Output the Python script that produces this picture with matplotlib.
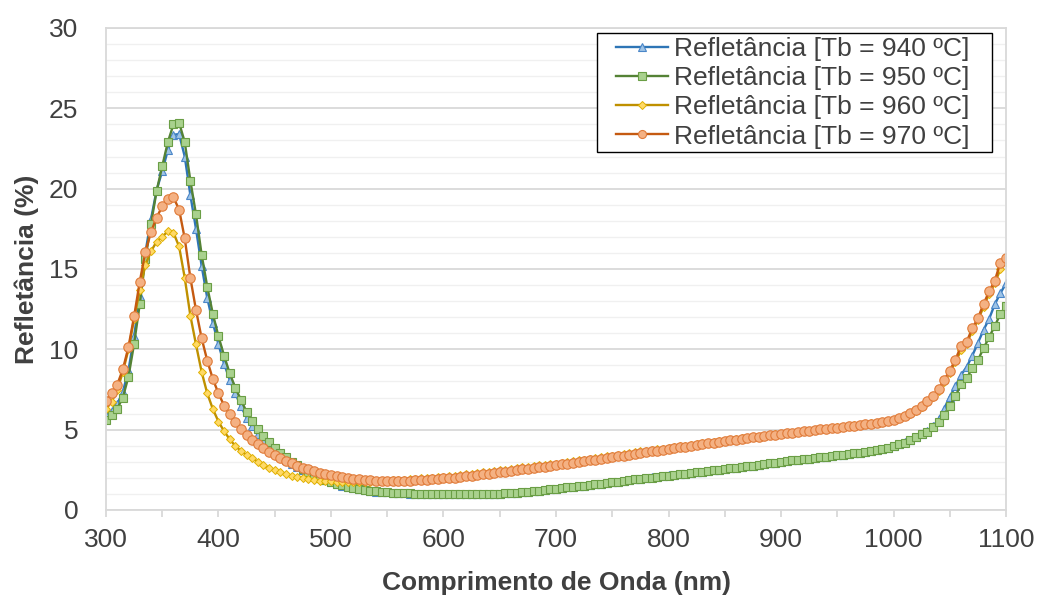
import matplotlib
matplotlib.use("Agg")
import matplotlib.pyplot as plt
from matplotlib.ticker import MultipleLocator
from matplotlib.patches import Rectangle
from matplotlib.transforms import IdentityTransform
import numpy as np

plt.rcParams['font.family'] = ['Liberation Sans', 'DejaVu Sans']

# comprimento de onda: 300 a 1100 nm, passo de 5 nm
wl = np.arange(300, 1101, 5)

r940 = [5.9, 6.15, 6.6, 7.35, 8.7, 10.8, 13.3, 16.0, 18.1, 19.9,
        21.1, 22.4, 23.35, 23.4, 22.0, 19.6, 17.5, 15.2, 13.2, 11.65,
        10.3, 9.1, 8.1, 7.25, 6.45, 5.75, 5.2, 4.7, 4.3, 3.95,
        3.62, 3.35, 3.1, 2.87, 2.66, 2.47, 2.3, 2.14, 1.99, 1.86,
        1.73, 1.62, 1.52, 1.43, 1.35, 1.29, 1.23, 1.18, 1.14, 1.11,
        1.09, 1.07, 1.05, 1.03, 1.02, 1.01, 1.0, 0.99, 0.99, 0.98,
        0.98, 0.97, 0.97, 0.97, 0.97, 0.98, 0.98, 0.99, 1.0, 1.01,
        1.02, 1.04, 1.06, 1.08, 1.1, 1.13, 1.16, 1.2, 1.24, 1.28,
        1.32, 1.36, 1.4, 1.44, 1.48, 1.52, 1.56, 1.6, 1.64, 1.68,
        1.73, 1.77, 1.81, 1.86, 1.9, 1.95, 1.99, 2.03, 2.07, 2.11,
        2.15, 2.19, 2.23, 2.27, 2.31, 2.35, 2.39, 2.43, 2.47, 2.51,
        2.55, 2.59, 2.63, 2.67, 2.71, 2.75, 2.8, 2.85, 2.9, 2.95,
        3.0, 3.04, 3.08, 3.12, 3.16, 3.2, 3.24, 3.28, 3.32, 3.36,
        3.4, 3.44, 3.48, 3.52, 3.57, 3.62, 3.67, 3.72, 3.79, 3.86,
        3.99, 4.1, 4.22, 4.38, 4.56, 4.75, 4.92, 5.2, 5.65, 6.3,
        7.05, 7.7, 8.4, 8.9, 9.6, 10.4, 11.2, 11.9, 12.8, 13.5,
        14.1]

r950 = [5.6, 5.9, 6.3, 7.0, 8.3, 10.35, 12.8, 15.6, 17.8, 19.85,
        21.4, 22.9, 24.0, 24.1, 22.9, 20.5, 18.4, 15.9, 13.9, 12.2,
        10.8, 9.6, 8.5, 7.6, 6.85, 6.1, 5.56, 5.05, 4.6, 4.2,
        3.85, 3.55, 3.28, 3.0, 2.78, 2.57, 2.36, 2.18, 2.01, 1.87,
        1.74, 1.64, 1.54, 1.45, 1.37, 1.31, 1.24, 1.2, 1.16, 1.12,
        1.1, 1.08, 1.06, 1.04, 1.03, 1.02, 1.01, 1.0, 1.0, 0.99,
        0.99, 0.98, 0.98, 0.98, 0.98, 0.98, 0.99, 0.99, 1.0, 1.01,
        1.02, 1.04, 1.06, 1.08, 1.1, 1.13, 1.16, 1.2, 1.24, 1.28,
        1.32, 1.36, 1.4, 1.44, 1.48, 1.52, 1.56, 1.6, 1.64, 1.68,
        1.72, 1.76, 1.8, 1.85, 1.9, 1.94, 1.98, 2.02, 2.06, 2.1,
        2.14, 2.18, 2.22, 2.26, 2.31, 2.35, 2.39, 2.43, 2.47, 2.51,
        2.55, 2.59, 2.63, 2.67, 2.71, 2.75, 2.8, 2.85, 2.9, 2.95,
        3.0, 3.04, 3.08, 3.12, 3.16, 3.2, 3.24, 3.28, 3.32, 3.36,
        3.4, 3.44, 3.48, 3.52, 3.57, 3.62, 3.67, 3.72, 3.78, 3.84,
        3.98, 4.09, 4.19, 4.36, 4.52, 4.72, 4.87, 5.16, 5.5, 5.93,
        6.48, 7.07, 7.83, 8.2, 8.82, 9.33, 10.06, 10.75, 11.45, 12.2,
        12.7]

r960 = [6.27, 6.74, 7.45, 8.6, 10.0, 11.9, 13.7, 15.25, 16.1, 16.7,
        17.0, 17.35, 17.25, 16.4, 14.45, 12.1, 10.3, 8.6, 7.26, 6.28,
        5.5, 4.9, 4.4, 3.98, 3.67, 3.42, 3.22, 3.0, 2.8, 2.6,
        2.49, 2.35, 2.22, 2.13, 2.07, 1.99, 1.93, 1.87, 1.82, 1.8,
        1.78, 1.77, 1.76, 1.75, 1.75, 1.75, 1.76, 1.77, 1.78, 1.8,
        1.82, 1.84, 1.86, 1.88, 1.9, 1.93, 1.96, 1.99, 2.02, 2.05,
        2.08, 2.11, 2.14, 2.18, 2.22, 2.26, 2.3, 2.34, 2.38, 2.42,
        2.46, 2.5, 2.55, 2.6, 2.65, 2.69, 2.73, 2.77, 2.81, 2.85,
        2.89, 2.94, 2.99, 3.04, 3.09, 3.14, 3.19, 3.24, 3.29, 3.34,
        3.39, 3.44, 3.49, 3.54, 3.59, 3.64, 3.68, 3.73, 3.78, 3.82,
        3.87, 3.91, 3.96, 4.0, 4.05, 4.09, 4.14, 4.18, 4.23, 4.27,
        4.32, 4.36, 4.4, 4.45, 4.49, 4.53, 4.57, 4.61, 4.66, 4.7,
        4.74, 4.78, 4.82, 4.86, 4.9, 4.94, 4.98, 5.02, 5.06, 5.1,
        5.14, 5.18, 5.22, 5.26, 5.3, 5.35, 5.4, 5.44, 5.49, 5.54,
        5.6, 5.72, 5.84, 6.0, 6.18, 6.4, 6.7, 7.02, 7.42, 7.98,
        8.55, 9.2, 9.95, 10.35, 11.15, 11.8, 12.65, 13.45, 14.1, 15.0,
        15.45]

r970 = [6.8, 7.25, 7.8, 8.75, 10.15, 12.05, 14.2, 16.05, 17.3, 18.2,
        18.9, 19.35, 19.45, 18.7, 16.9, 14.45, 12.45, 10.7, 9.3, 8.15,
        7.25, 6.5, 5.95, 5.45, 5.03, 4.67, 4.36, 4.09, 3.84, 3.63,
        3.42, 3.22, 3.05, 2.9, 2.76, 2.63, 2.53, 2.43, 2.33, 2.24,
        2.18, 2.12, 2.05, 1.99, 1.95, 1.91, 1.87, 1.85, 1.82, 1.8,
        1.8, 1.8, 1.8, 1.82, 1.83, 1.85, 1.87, 1.89, 1.91, 1.93,
        1.96, 1.99, 2.02, 2.06, 2.1, 2.14, 2.18, 2.22, 2.26, 2.3,
        2.34, 2.38, 2.43, 2.48, 2.53, 2.58, 2.62, 2.66, 2.7, 2.74,
        2.79, 2.84, 2.89, 2.94, 2.99, 3.04, 3.09, 3.14, 3.19, 3.24,
        3.29, 3.34, 3.39, 3.44, 3.49, 3.54, 3.59, 3.64, 3.69, 3.74,
        3.79, 3.84, 3.89, 3.94, 3.99, 4.04, 4.09, 4.14, 4.19, 4.24,
        4.29, 4.34, 4.38, 4.43, 4.47, 4.52, 4.56, 4.6, 4.65, 4.69,
        4.73, 4.77, 4.81, 4.85, 4.89, 4.93, 4.97, 5.01, 5.05, 5.09,
        5.13, 5.17, 5.21, 5.25, 5.3, 5.34, 5.38, 5.43, 5.49, 5.55,
        5.62, 5.74, 5.86, 6.05, 6.22, 6.45, 6.78, 7.1, 7.52, 8.09,
        8.67, 9.35, 10.2, 10.47, 11.3, 11.93, 12.82, 13.6, 14.27, 15.4,
        15.66]

labels = ['Refletância [Tb = 940 ºC]', 'Refletância [Tb = 950 ºC]',
          'Refletância [Tb = 960 ºC]', 'Refletância [Tb = 970 ºC]']

txt = '#404040'
fig = plt.figure(figsize=(10.38, 5.98), dpi=100)
ax = fig.add_axes([0.1021, 0.1472, 0.8671, 0.806])

ax.plot(wl, r940, color='#2E75B6', lw=1.7, marker='^', ms=6.3,
        mfc='#9DC3E6', mec='#4A86C8', mew=0.8, label=labels[0])
ax.plot(wl, r950, color='#548235', lw=1.7, marker='s', ms=6.2,
        mfc='#A9D18E', mec='#6A9E45', mew=0.8, label=labels[1])
ax.plot(wl, r960, color='#BF9000', lw=1.7, marker='D', ms=4.5,
        mfc='#FFD966', mec='#E0B000', mew=0.7, label=labels[2])
ax.plot(wl, r970, color='#C55A11', lw=1.7, marker='o', ms=6.8,
        mfc='#F4B183', mec='#E07B39', mew=0.8, label=labels[3])

ax.set_xlim(300, 1100)
ax.set_ylim(0, 30)
ax.xaxis.set_major_locator(MultipleLocator(100))
ax.xaxis.set_minor_locator(MultipleLocator(50))
ax.yaxis.set_major_locator(MultipleLocator(5))
ax.yaxis.set_minor_locator(MultipleLocator(1))

ax.grid(which='major', axis='y', color='#D9D9D9', lw=1.3)
ax.grid(which='minor', axis='y', color='#F0F0F0', lw=1.0)
ax.set_axisbelow(True)
for s in ax.spines.values():
    s.set_color('#D9D9D9')
    s.set_linewidth(1.3)

ax.tick_params(axis='x', which='both', direction='out', length=5,
               color='#D9D9D9', width=1.3, labelsize=19, labelcolor=txt, pad=8)
ax.tick_params(axis='y', which='both', length=0, labelsize=19,
               labelcolor=txt, pad=20)

ax.set_xlabel('Comprimento de Onda (nm)', fontsize=19, fontweight='bold',
              color=txt, labelpad=14)
ax.set_ylabel('Refletância (%)', fontsize=19, fontweight='bold',
              color=txt, labelpad=7)

leg = ax.legend(loc='upper right', bbox_to_anchor=(0.962, 0.987),
                borderaxespad=0, fontsize=19, frameon=False,
                handlelength=2.0, handletextpad=0.2, labelspacing=0.2,
                borderpad=0.1, markerscale=0.85)
leg.set_zorder(6)
for t in leg.get_texts():
    t.set_color(txt)

# caixa da legenda com mais margem nas laterais
fig.canvas.draw()
bb = leg.get_window_extent()
box = Rectangle((bb.x0 - 16, bb.y0 - 1), bb.width + 16 + 20, bb.height + 2,
                transform=IdentityTransform(), facecolor='white',
                edgecolor='black', linewidth=1.0, zorder=5, clip_on=False)
ax.add_artist(box)

fig.savefig('out.png', dpi=100)
